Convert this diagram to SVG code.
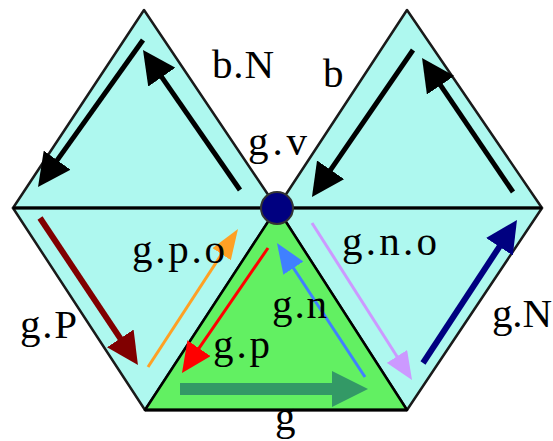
<svg xmlns="http://www.w3.org/2000/svg" width="553" height="441" viewBox="0 0 553 441">
<style>
.tri{fill:#AEF8EF;stroke:#1a1a1a;stroke-width:2.5;stroke-linejoin:round}
.grn{fill:#62F062;stroke:#000;stroke-width:2.5;stroke-linejoin:round}
.lbl{font-family:"Liberation Serif","Times New Roman",serif;font-size:41px;fill:#000}
.ar{fill:none;stroke-linecap:butt}
</style>
<defs>
<marker id="hBlack" markerUnits="userSpaceOnUse" viewBox="0 0 10 10" preserveAspectRatio="none" markerWidth="33" markerHeight="33" refX="5" refY="5" orient="auto"><path d="M0,0 L10,5 L0,10 z" fill="#000"/></marker>
<marker id="hMaroon" markerUnits="userSpaceOnUse" viewBox="0 0 10 10" preserveAspectRatio="none" markerWidth="32" markerHeight="32" refX="5" refY="5" orient="auto"><path d="M0,0 L10,5 L0,10 z" fill="#800000"/></marker>
<marker id="hNavy" markerUnits="userSpaceOnUse" viewBox="0 0 10 10" preserveAspectRatio="none" markerWidth="32" markerHeight="32" refX="5" refY="5" orient="auto"><path d="M0,0 L10,5 L0,10 z" fill="#000080"/></marker>
<marker id="hOrange" markerUnits="userSpaceOnUse" viewBox="0 0 10 10" preserveAspectRatio="none" markerWidth="30" markerHeight="22" refX="5" refY="5" orient="auto"><path d="M0,0 L10,5 L0,10 z" fill="#FFA024"/></marker>
<marker id="hRed" markerUnits="userSpaceOnUse" viewBox="0 0 10 10" preserveAspectRatio="none" markerWidth="30" markerHeight="28" refX="5" refY="5" orient="auto"><path d="M0,0 L10,5 L0,10 z" fill="#FF0000"/></marker>
<marker id="hBlue" markerUnits="userSpaceOnUse" viewBox="0 0 10 10" preserveAspectRatio="none" markerWidth="30" markerHeight="24" refX="5" refY="5" orient="auto"><path d="M0,0 L10,5 L0,10 z" fill="#4080FF"/></marker>
<marker id="hLav" markerUnits="userSpaceOnUse" viewBox="0 0 10 10" preserveAspectRatio="none" markerWidth="28" markerHeight="24" refX="5" refY="5" orient="auto"><path d="M0,0 L10,5 L0,10 z" fill="#CC99FF"/></marker>
<marker id="hGreen" markerUnits="userSpaceOnUse" viewBox="0 0 10 10" preserveAspectRatio="none" markerWidth="36" markerHeight="36" refX="5" refY="5" orient="auto"><path d="M0,0 L10,5 L0,10 z" fill="#339966"/></marker>
</defs>

<g id="face-bN"><polygon class="tri" points="144,10 13,208 277,208"/></g>
<g id="face-b"><polygon class="tri" points="407,10 277,208 542,208"/></g>
<g id="face-gP"><polygon class="tri" points="13,208 277,208 145,410"/></g>
<g id="face-gN"><polygon class="tri" points="277,208 542,208 407,410"/></g>
<g id="face-g"><polygon class="grn" points="277,208 145,410 407,410"/></g>
<g id="edges">
<line x1="13" y1="208" x2="542" y2="208" stroke="#000" stroke-width="3"/>
<line x1="145" y1="410" x2="407" y2="410" stroke="#000" stroke-width="3"/>
</g>

<g id="connectors">
<line class="ar" x1="240" y1="190" x2="152.4" y2="63.6" stroke="#000" stroke-width="5" marker-end="url(#hBlack)"/>
<line class="ar" x1="143" y1="40" x2="47.6" y2="173.6" stroke="#000" stroke-width="5" marker-end="url(#hBlack)"/>
<line class="ar" x1="413" y1="50" x2="321.3" y2="183.4" stroke="#000" stroke-width="5" marker-end="url(#hBlack)"/>
<line class="ar" x1="513" y1="192" x2="431.3" y2="71.6" stroke="#000" stroke-width="5" marker-end="url(#hBlack)"/>
<line class="ar" x1="40" y1="218" x2="129.1" y2="351.7" stroke="#800000" stroke-width="6" marker-end="url(#hMaroon)"/>
<line class="ar" x1="148" y1="367" x2="229.8" y2="241.6" stroke="#FFA024" stroke-width="3" marker-end="url(#hOrange)"/>
<line class="ar" x1="268" y1="248" x2="190.5" y2="360.6" stroke="#FF0000" stroke-width="3" marker-end="url(#hRed)"/>
<line class="ar" x1="365" y1="377" x2="285.2" y2="255.5" stroke="#4080FF" stroke-width="3" marker-end="url(#hBlue)"/>
<line class="ar" x1="312" y1="223" x2="404.5" y2="368.2" stroke="#CC99FF" stroke-width="3" marker-end="url(#hLav)"/>
<line class="ar" x1="423" y1="363" x2="508.2" y2="233.4" stroke="#000080" stroke-width="6" marker-end="url(#hNavy)"/>
<line class="ar" x1="180" y1="389" x2="350" y2="389" stroke="#339966" stroke-width="12" marker-end="url(#hGreen)"/>
</g>

<g id="vertex-gv"><circle cx="277" cy="208" r="16" fill="#000080" stroke="#333" stroke-width="2"/></g>

<g id="labels">
<text class="lbl" x="212" y="78" textLength="62" lengthAdjust="spacing">b.N</text>
<text class="lbl" x="323" y="87">b</text>
<text class="lbl" x="248" y="155" textLength="59" lengthAdjust="spacing">g.v</text>
<text class="lbl" x="132" y="263" textLength="93" lengthAdjust="spacing">g.p.o</text>
<text class="lbl" x="342" y="255" textLength="95" lengthAdjust="spacing">g.n.o</text>
<text class="lbl" x="20" y="338" textLength="57" lengthAdjust="spacing">g.P</text>
<text class="lbl" x="272" y="318" textLength="55" lengthAdjust="spacing">g.n</text>
<text class="lbl" x="213" y="358" textLength="57" lengthAdjust="spacing">g.p</text>
<text class="lbl" x="492" y="327" textLength="60" lengthAdjust="spacing">g.N</text>
<text class="lbl" x="275" y="430">g</text>
</g>
</svg>
